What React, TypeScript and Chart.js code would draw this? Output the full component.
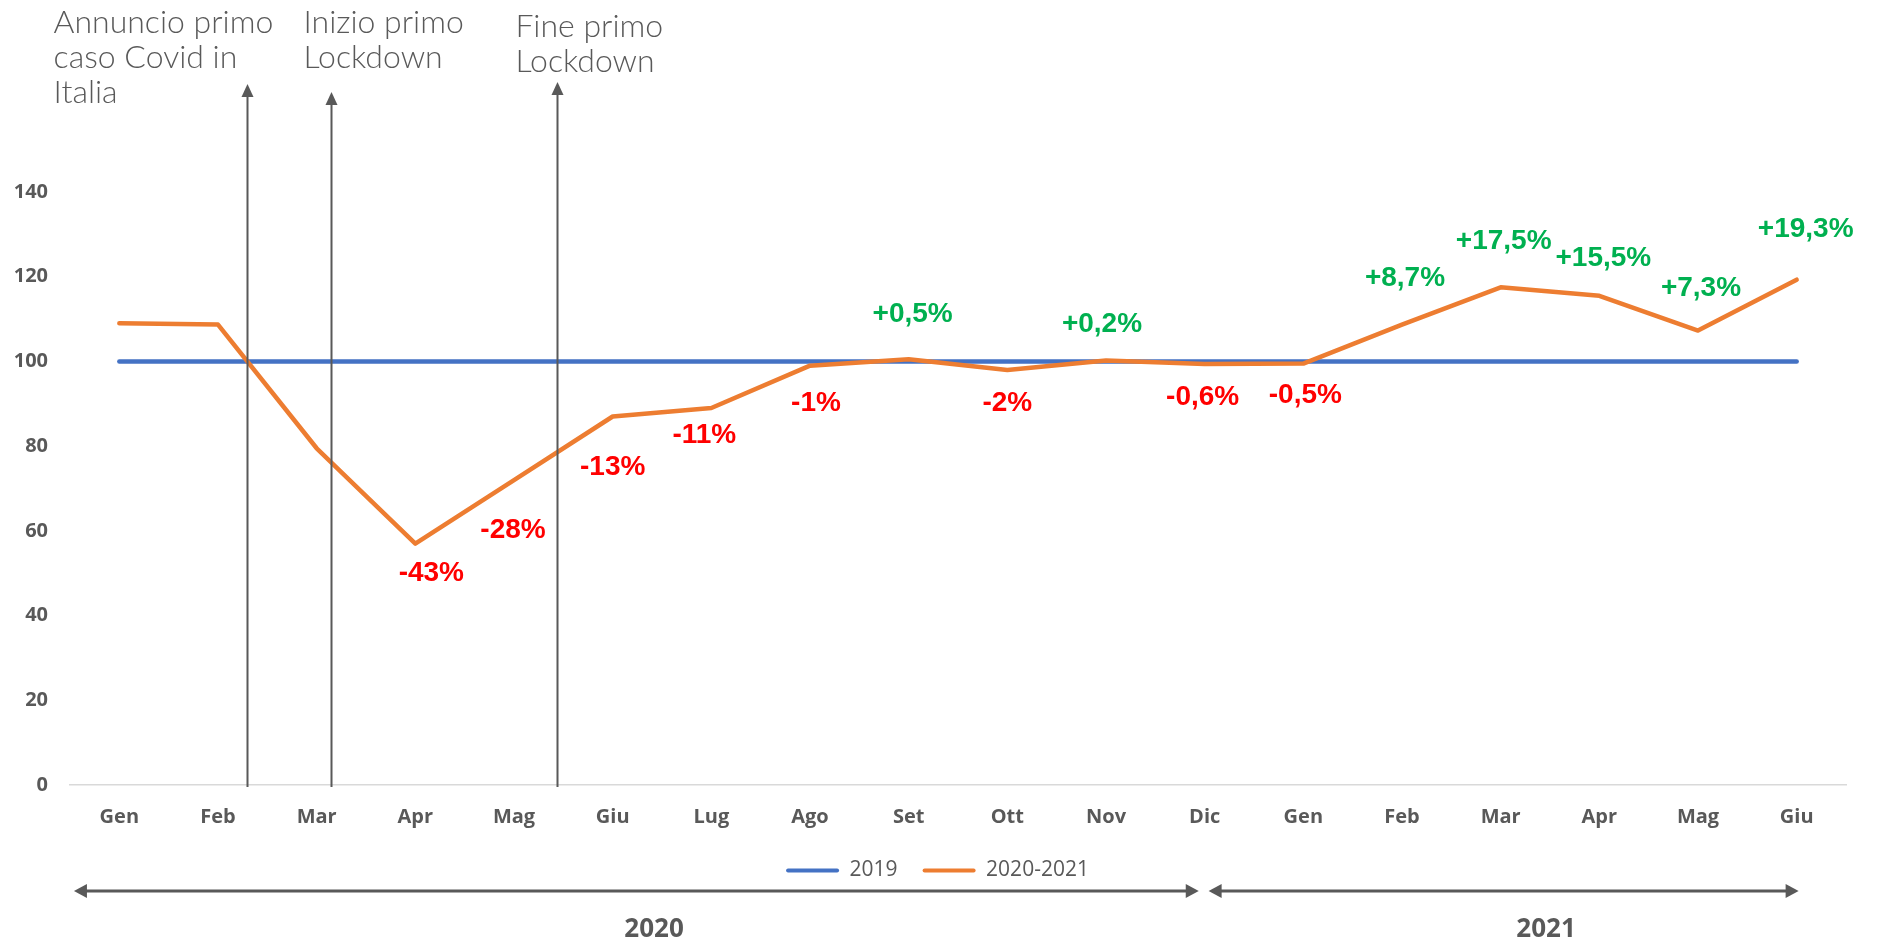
import React, { useEffect, useRef } from "react";
import { Chart, registerables } from "chart.js";

Chart.register(...registerables);

// ---------- data ----------
const months = ["Gen", "Feb", "Mar", "Apr", "Mag", "Giu", "Lug", "Ago", "Set", "Ott", "Nov", "Dic", "Gen", "Feb", "Mar", "Apr", "Mag", "Giu"];
const values2019 = [100, 100, 100, 100, 100, 100, 100, 100, 100, 100, 100, 100, 100, 100, 100, 100, 100, 100];
const values2020_2021 = [109, 108.7, 79.5, 57, 72, 87, 89, 99, 100.5, 98, 100.2, 99.4, 99.5, 108.7, 117.5, 115.5, 107.3, 119.3];
const changeLabels = ["", "", "", "-43%", "-28%", "-13%", "-11%", "-1%", "+0,5%", "-2%", "+0,2%", "-0,6%", "-0,5%", "+8,7%", "+17,5%", "+15,5%", "+7,3%", "+19,3%"];
const seriesNames = ["2019", "2020-2021"];
const yMin = 0;
const yMax = 140;
const yStep = 20;

const eventTexts = [
  ["Annuncio primo", "caso Covid in", "Italia"],
  ["Inizio primo", "Lockdown"],
  ["Fine primo", "Lockdown"],
];
const eventAt = [1.29, 2.15, 4.44]; // category index of each event arrow
const yearTexts = ["2020", "2021"];
const yearSpans = [
  [-0.46, 10.94],
  [11.04, 17.02],
];
const yearTextAt = [5.42, 14.46];

// ---------- styles / layout ----------
const GRAY = "#595959";
const BLUE = "#4472C4";
const ORANGE = "#ED7D31";
const RED = "#FF0000";
const GREEN = "#00B050";

const labelOffsets: [number, number][] = [
  [0, 0], [0, 0], [0, 0],
  [16, 30], [-1, 50], [0, 51], [-7, 27], [6, 38], [4, -45], [0, 33], [-4, -36],
  [-2, 33], [2, 32], [3, -46], [3, -46], [4, -37], [3, -42], [9, -50],
];
const eventTextLayout = [
  { dx: -193, y: 23 },
  { dx: -28, y: 23 },
  { dx: -42, y: 27 },
];
const eventTipY = [84, 92, 82];
const yearArrowY = 891;
const yearTextY = 930;

function drawHead(ctx: CanvasRenderingContext2D, x: number, y: number, dir: "up" | "left" | "right", len: number, half: number) {
  ctx.beginPath();
  if (dir === "up") {
    ctx.moveTo(x, y);
    ctx.lineTo(x - half, y + len);
    ctx.lineTo(x + half, y + len);
  } else if (dir === "left") {
    ctx.moveTo(x, y);
    ctx.lineTo(x + len, y - half);
    ctx.lineTo(x + len, y + half);
  } else {
    ctx.moveTo(x, y);
    ctx.lineTo(x - len, y - half);
    ctx.lineTo(x - len, y + half);
  }
  ctx.closePath();
  ctx.fill();
}

const overlayPlugin = {
  id: "overlay",
  afterDatasetsDraw(chart: any) {
    const { ctx, chartArea } = chart;
    const x = chart.scales.x;
    const meta = chart.getDatasetMeta(1);
    ctx.save();

    // event arrows
    ctx.strokeStyle = GRAY;
    ctx.fillStyle = GRAY;
    ctx.lineWidth = 2;
    eventAt.forEach((v, i) => {
      const px = Math.round(x.getPixelForValue(v)) + 0.5;
      const tip = eventTipY[i];
      ctx.beginPath();
      ctx.moveTo(px, chartArea.bottom + 2);
      ctx.lineTo(px, tip + 10);
      ctx.stroke();
      drawHead(ctx, px, tip, "up", 13, 6);
    });

    // event texts
    ctx.font = '300 32px Lato, "DejaVu Sans", sans-serif';
    ctx.textAlign = "left";
    ctx.textBaseline = "middle";
    ctx.fillStyle = GRAY;
    eventTexts.forEach((lines, i) => {
      const px = x.getPixelForValue(eventAt[i]);
      const lay = eventTextLayout[i];
      lines.forEach((line, j) => {
        ctx.fillText(line, px + lay.dx, lay.y + j * 35);
      });
    });

    // data labels
    ctx.font = 'bold 28px "Liberation Sans", Arial, sans-serif';
    ctx.textAlign = "center";
    ctx.textBaseline = "middle";
    changeLabels.forEach((t, i) => {
      if (!t) return;
      const pt = meta.data[i];
      const [dx, dy] = labelOffsets[i];
      ctx.fillStyle = t.startsWith("+") ? GREEN : RED;
      ctx.fillText(t, pt.x + dx, pt.y + dy);
    });

    // year arrows
    ctx.strokeStyle = GRAY;
    ctx.fillStyle = GRAY;
    ctx.lineWidth = 3;
    yearSpans.forEach(([a, b]) => {
      const x1 = x.getPixelForValue(a);
      const x2 = x.getPixelForValue(b);
      ctx.beginPath();
      ctx.moveTo(x1 + 8, yearArrowY);
      ctx.lineTo(x2 - 8, yearArrowY);
      ctx.stroke();
      drawHead(ctx, x1, yearArrowY, "left", 13, 7);
      drawHead(ctx, x2, yearArrowY, "right", 13, 7);
    });

    // year texts
    ctx.font = 'bold 26px "Open Sans", sans-serif';
    ctx.textAlign = "center";
    ctx.textBaseline = "middle";
    yearTexts.forEach((t, i) => {
      ctx.fillText(t, x.getPixelForValue(yearTextAt[i]), yearTextY);
    });

    ctx.restore();
  },
};

export default function App() {
  const canvasRef = useRef<HTMLCanvasElement | null>(null);

  useEffect(() => {
    if (!canvasRef.current) return;
    const chart = new Chart(canvasRef.current, {
      type: "line",
      data: {
        labels: months,
        datasets: [
          {
            label: seriesNames[0],
            data: values2019,
            borderColor: BLUE,
            backgroundColor: BLUE,
            borderWidth: 4.5,
            pointRadius: 0,
            borderCapStyle: "round",
            tension: 0,
            order: 1,
          },
          {
            label: seriesNames[1],
            data: values2020_2021,
            borderColor: ORANGE,
            backgroundColor: ORANGE,
            borderWidth: 4.5,
            pointRadius: 0,
            borderCapStyle: "round",
            borderJoinStyle: "round",
            tension: 0,
            order: 0,
          },
        ],
      },
      options: {
        animation: false,
        responsive: true,
        maintainAspectRatio: false,
        layout: { padding: { left: 0, right: 4, top: 192, bottom: 55 } },
        plugins: {
          tooltip: { enabled: false },
          legend: {
            position: "bottom",
            labels: {
              boxWidth: 53,
              boxHeight: 4,
              padding: 25,
              color: GRAY,
              useBorderRadius: true,
              borderRadius: 2,
              font: { family: '"Open Sans", sans-serif', size: 21 },
              generateLabels: (c: any) =>
                c.data.datasets.map((ds: any, i: number) => ({
                  text: ds.label,
                  fillStyle: ds.borderColor,
                  strokeStyle: ds.borderColor,
                  lineWidth: 0,
                  hidden: false,
                  datasetIndex: i,
                  borderRadius: 2,
                  fontColor: GRAY,
                })),
            },
          },
        },
        scales: {
          x: {
            offset: true,
            grid: { display: false, drawTicks: false },
            border: { display: true, color: "#D9D9D9", width: 1.5 },
            ticks: {
              padding: 20,
              color: GRAY,
              font: { family: '"Open Sans", sans-serif', size: 20, weight: "bold" },
              maxRotation: 0,
              autoSkip: false,
            },
            afterFit: (s: any) => {
              s.height = 50;
            },
          },
          y: {
            min: yMin,
            max: yMax,
            grid: { display: false, drawTicks: false },
            border: { display: false },
            ticks: {
              stepSize: yStep,
              padding: 22,
              color: GRAY,
              font: { family: '"Open Sans", sans-serif', size: 20, weight: "bold" },
            },
            afterFit: (s: any) => {
              s.width = 70;
            },
          },
          yRight: {
            position: "right",
            min: yMin,
            max: yMax,
            grid: { display: false, drawTicks: false },
            border: { display: false },
            ticks: { display: false },
            afterFit: (s: any) => {
              s.width = 29;
            },
          },
        },
      },
      plugins: [overlayPlugin],
    });
    return () => chart.destroy();
  }, []);

  return (
    <div style={{ position: "fixed", left: 0, top: 0, width: 1879, height: 946, background: "#fff" }}>
      <canvas ref={canvasRef} />
    </div>
  );
}
